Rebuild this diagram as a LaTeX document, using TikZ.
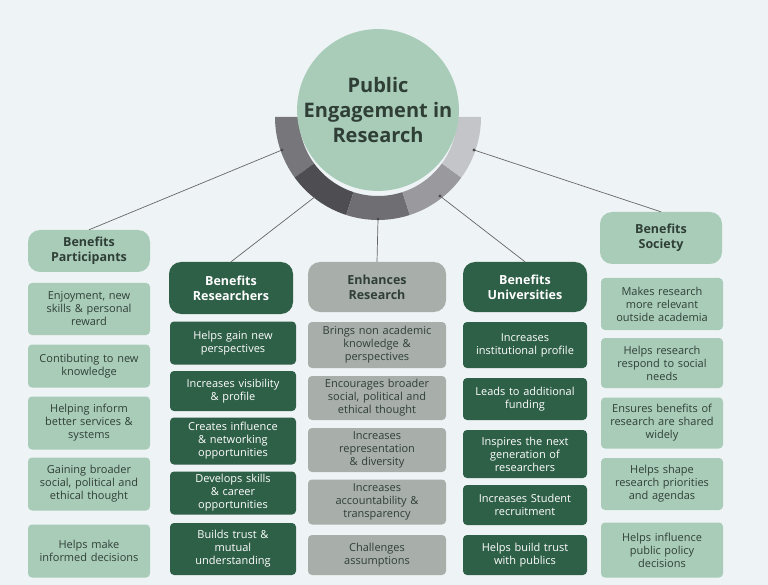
\documentclass[tikz,border=0pt]{standalone}
\usepackage{fontspec}
\setmainfont{Open Sans}
\usetikzlibrary{calc}
\begin{document}
\begin{tikzpicture}[x=1pt,y=-1pt,
  lg/.style={fill=lgreen,text=txt},
  dg/.style={fill=dgreen,text=white},
  gy/.style={fill=gbox,text=txt},
  item/.style={rounded corners=4pt,align=center,font=\fontsize{11}{13}\selectfont,inner sep=1pt,text width=120pt,minimum width=122pt},
  head/.style={rounded corners=12pt,align=center,font=\fontsize{12.5}{15}\selectfont\bfseries,inner sep=1pt,minimum width=122pt},
  conn/.style={draw=gray!80!black,line width=0.7pt},
  dot/.style={circle,fill=gray!60!black,inner sep=1.2pt}]
\definecolor{bg}{HTML}{EEF3F5}
\definecolor{lgreen}{HTML}{A9CCB9}
\definecolor{dgreen}{HTML}{2E5F47}
\definecolor{gbox}{HTML}{A8AEAA}
\definecolor{txt}{HTML}{2F3F36}
\definecolor{rA}{HTML}{77767A}
\definecolor{rB}{HTML}{4E4D52}
\definecolor{rC}{HTML}{6F6E72}
\definecolor{rD}{HTML}{9A999D}
\definecolor{rE}{HTML}{C4C5C8}
\fill[bg] (0,0) rectangle (768,585);
\useasboundingbox (0,0) rectangle (768,585);
% ring
\foreach \a/\c in {180/rA,216/rB,252/rC,288/rD,324/rE}{
  \fill[\c] ($(378,117)+(-\a:103)$) arc[start angle=-\a,end angle=-\a-36,radius=103]
   -- ($(378,117)+(-\a-36:79)$) arc[start angle=-\a-36,end angle=-\a,radius=79] -- cycle;}
\node[circle,fill=lgreen,minimum size=160pt,inner sep=0pt,align=center,text=txt,
  font=\fontsize{20}{25}\selectfont\bfseries] (hub) at (378,110) {Public\\Engagement in\\Research};
\coordinate (pA) at (282,150);
\coordinate (pB) at (316,196);
\coordinate (pC) at (378,219);
\coordinate (pD) at (440,196);
\coordinate (pE) at (474,150);
% headers
\node[head,lg,minimum height=42pt] (hP) at (89,251) {Benefits\\Participants};
\node[head,dg,minimum height=52pt,minimum width=124pt] (hR) at (231,288) {Benefits\\Researchers};
\node[head,gy,minimum height=50pt,minimum width=138pt] (hE) at (377,287) {Enhances\\Research};
\node[head,dg,minimum height=50pt,minimum width=124pt] (hU) at (525,287) {Benefits\\Universities};
\node[head,lg,minimum height=52pt] (hS) at (661,238) {Benefits\\Society};
\foreach \p/\h in {pA/hP,pB/hR,pC/hE,pD/hU,pE/hS}{
  \draw[conn] (\p) -- (\h.north);
  \node[dot] at (\p) {};}
% participants
\node[item,lg,minimum height=52pt] (p1) at (89,309) {Enjoyment, new\\skills \& personal\\reward};
\node[item,lg,minimum height=43pt] (p2) at (89,366) {Contibuting to new\\knowledge};
\node[item,lg,minimum height=53pt] (p3) at (89,423) {Helping inform\\better services \&\\systems};
\node[item,lg,minimum height=53pt] (p4) at (89,484) {Gaining broader\\social, political and\\ethical thought};
\node[item,lg,minimum height=53pt] (p5) at (89,551) {Helps make\\informed decisions};
% researchers
\node[item,dg,minimum height=43pt,minimum width=126pt] (r1) at (233,343) {Helps gain new\\perspectives};
\node[item,dg,minimum height=40pt,minimum width=126pt] (r2) at (233,391) {Increases visibility\\\& profile};
\node[item,dg,minimum height=47pt,minimum width=126pt] (r3) at (233,441) {Creates influence\\\& networking\\opportunities};
\node[item,dg,minimum height=43pt,minimum width=126pt] (r4) at (233,493) {Develops skills\\\& career\\opportunities};
\node[item,dg,minimum height=52pt,minimum width=126pt] (r5) at (233,549) {Builds trust \&\\mutual\\understanding};
% enhances
\node[item,gy,minimum height=46pt,minimum width=138pt,text width=134pt] (e1) at (377,345) {Brings non academic\\knowledge \&\\perspectives};
\node[item,gy,minimum height=44pt,minimum width=138pt,text width=134pt] (e2) at (377,398) {Encourages broader\\social, political and\\ethical thought};
\node[item,gy,minimum height=44pt,minimum width=138pt,text width=134pt] (e3) at (377,450) {Increases\\representation\\\& diversity};
\node[item,gy,minimum height=45pt,minimum width=138pt,text width=134pt] (e4) at (377,502) {Increases\\accountability \&\\transparency};
\node[item,gy,minimum height=40pt,minimum width=138pt,text width=134pt] (e5) at (377,555) {Challenges\\assumptions};
% universities
\node[item,dg,minimum height=46pt,minimum width=124pt] (u1) at (525,345) {Increases\\institutional profile};
\node[item,dg,minimum height=42pt,minimum width=124pt] (u2) at (525,399) {Leads to additional\\funding};
\node[item,dg,minimum height=48pt,minimum width=124pt] (u3) at (525,454) {Inspires the next\\generation of\\researchers};
\node[item,dg,minimum height=40pt,minimum width=124pt] (u4) at (525,505) {Increases Student\\recruitment};
\node[item,dg,minimum height=40pt,minimum width=124pt] (u5) at (525,555) {Helps build trust\\with publics};
% society
\node[item,lg,minimum height=52pt] (s1) at (662,304) {Makes research\\more relevant\\outside academia};
\node[item,lg,minimum height=50pt] (s2) at (662,363) {Helps research\\respond to social\\needs};
\node[item,lg,minimum height=51pt] (s3) at (662,423) {Ensures benefits of\\research are shared\\widely};
\node[item,lg,minimum height=52pt] (s4) at (662,484) {Helps shape\\research priorities\\and agendas};
\node[item,lg,minimum height=55pt] (s5) at (662,550) {Helps influence\\public policy\\decisions};
\end{tikzpicture}
\end{document}
